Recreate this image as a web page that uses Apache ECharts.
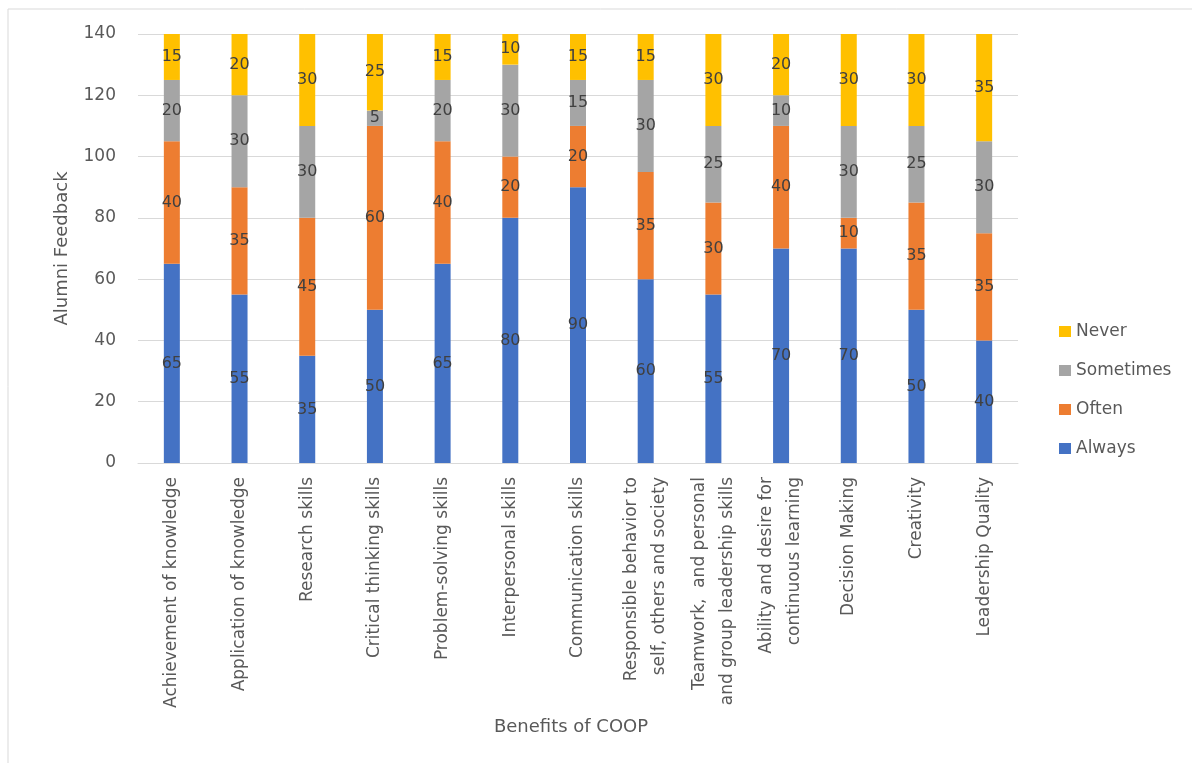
<!DOCTYPE html>
<html>
<head>
    <meta charset="utf-8">
    <title>Benefits of COOP</title>
    <script src="https://cdn.jsdelivr.net/npm/echarts@6/dist/echarts.min.js"></script>
    <style>
        html, body { margin: 0; padding: 0; background: #fff; }
    </style>
</head>
<body>
<div id="main" style="width: 1192px;height:763px;"></div>
<script type="text/javascript">
    // data
    var categories = [
        'Achievement of knowledge',
        'Application of knowledge',
        'Research skills',
        'Critical thinking skills',
        'Problem-solving skills',
        'Interpersonal skills',
        'Communication skills',
        'Responsible behavior to\nself, others and society',
        'Teamwork,  and personal\nand group leadership skills',
        'Ability and desire for\ncontinuous learning',
        'Decision Making',
        'Creativity',
        'Leadership Quality'
    ];
    var always    = [65, 55, 35, 50, 65, 80, 90, 60, 55, 70, 70, 50, 40];
    var often     = [40, 35, 45, 60, 40, 20, 20, 35, 30, 40, 10, 35, 35];
    var sometimes = [20, 30, 30, 5, 20, 30, 15, 30, 25, 10, 30, 25, 30];
    var never     = [15, 20, 30, 25, 15, 10, 15, 15, 30, 20, 30, 30, 35];
    var yTicks = [0, 20, 40, 60, 80, 100, 120, 140];

    var font = 'DejaVu Sans, sans-serif';
    var grey = '#595959';

    function bar(name, data, color) {
        return {
            name: name,
            type: 'bar',
            stack: 'total',
            barWidth: 16,
            data: data,
            itemStyle: { color: color },
            label: {
                show: true,
                position: 'inside',
                color: '#404040',
                fontSize: 16,
                fontFamily: font
            }
        };
    }

    var myChart = echarts.init(document.getElementById('main'), null, {renderer: 'canvas'});
    var option = {
        backgroundColor: '#fff',
        animation: false,
        // thin frame around the chart area (only top and left edges are in view)
        graphic: [{
            type: 'rect',
            shape: { x: 8, y: 9, width: 1300, height: 900 },
            style: { fill: 'none', stroke: '#d9d9d9', lineWidth: 1 },
            silent: true
        }],
        grid: { left: 138, right: 174, top: 34, bottom: 300 },
        legend: {
            orient: 'vertical',
            left: 1054,
            top: 318,
            itemWidth: 12,
            itemHeight: 11,
            itemGap: 22,
            icon: 'rect',
            data: ['Never', 'Sometimes', 'Often', 'Always'],
            textStyle: { color: grey, fontSize: 17, fontFamily: font }
        },
        xAxis: {
            type: 'category',
            data: categories,
            name: 'Benefits of COOP',
            nameLocation: 'middle',
            nameGap: 255,
            nameTextStyle: { color: grey, fontSize: 18, fontFamily: font, padding: [0, 14, 0, 0] },
            axisLine: { lineStyle: { color: '#d9d9d9' } },
            axisTick: { show: false },
            axisLabel: {
                interval: 0,
                rotate: 90,
                margin: 14,
                color: grey,
                fontSize: 17,
                lineHeight: 28,
                fontFamily: font
            }
        },
        yAxis: {
            type: 'value',
            min: yTicks[0],
            max: yTicks[yTicks.length - 1],
            interval: 20,
            name: 'Alumni Feedback',
            nameLocation: 'middle',
            nameGap: 67,
            nameTextStyle: { color: grey, fontSize: 18, fontFamily: font },
            axisLine: { show: false },
            axisTick: { show: false },
            axisLabel: { color: grey, fontSize: 17, margin: 22, fontFamily: font },
            splitLine: { lineStyle: { color: '#d9d9d9' } }
        },
        series: [
            bar('Always', always, '#4472C4'),
            bar('Often', often, '#ED7D31'),
            bar('Sometimes', sometimes, '#A5A5A5'),
            bar('Never', never, '#FFC000')
        ]
    };
    myChart.setOption(option);
</script>
</body>
</html>
